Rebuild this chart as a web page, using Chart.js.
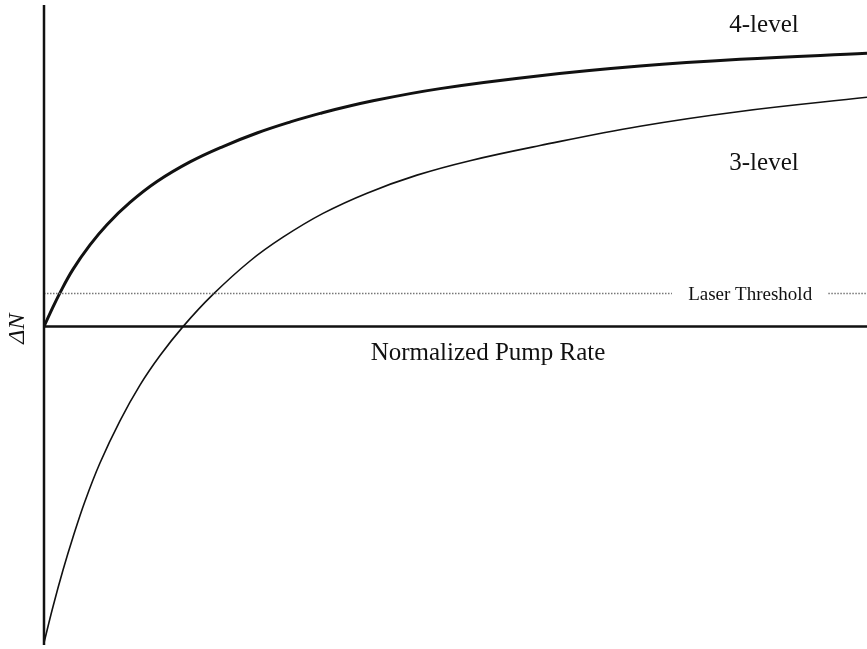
<!DOCTYPE html>
<html>
<head>
<meta charset="utf-8">
<title>Population inversion vs pump rate</title>
<script src="https://cdn.jsdelivr.net/npm/chart.js@4/dist/chart.umd.min.js"></script>
<style>
  html, body { margin: 0; padding: 0; background: #fff; }
  #chart { display: block; }
</style>
</head>
<body>
<canvas id="chart" width="867" height="649"></canvas>
<script>
// ---- Data ----
const fourLevelRate = [0, 0.073, 0.194, 0.352, 0.559, 0.765, 1.045, 1.373, 1.774, 2.175, 2.588, 2.989, 3.354, 3.998, 4.812, 6.027, 7.242, 8.457, 10];
const fourLevel = [0, 0.041, 0.105, 0.178, 0.254, 0.317, 0.386, 0.451, 0.512, 0.560, 0.602, 0.636, 0.663, 0.702, 0.740, 0.780, 0.810, 0.831, 0.850];
const threeLevelRate = [0, 0.109, 0.231, 0.352, 0.498, 0.680, 0.923, 1.166, 1.410, 1.689, 2.041, 2.503, 2.904, 3.390, 3.925, 4.532, 5.176, 6.027, 7.242, 8.457, 10];
const threeLevel = [-0.983, -0.871, -0.757, -0.655, -0.543, -0.424, -0.293, -0.182, -0.090, 0, 0.097, 0.204, 0.278, 0.352, 0.415, 0.471, 0.516, 0.563, 0.623, 0.669, 0.713];
const threshold = 0.103;
const thresholdGap = [7.63, 9.53]; // where the label breaks the dotted line
const curveLabels = ["4-level", "3-level"];

const toPoints = (xs, ys) => xs.map((x, i) => ({ x: x, y: ys[i] }));

// ---- Axes, threshold and labels ----
const annotate = {
  id: "annotate",
  afterDatasetsDraw(chart) {
    const { ctx, chartArea, scales } = chart;
    const x0 = scales.x.getPixelForValue(0);
    const y0 = scales.y.getPixelForValue(0);
    const yT = scales.y.getPixelForValue(threshold);
    ctx.save();

    // threshold dotted line
    ctx.strokeStyle = "#777";
    ctx.lineWidth = 1.5;
    ctx.setLineDash([1.5, 1.5]);
    ctx.beginPath();
    ctx.moveTo(x0, yT);
    ctx.lineTo(scales.x.getPixelForValue(thresholdGap[0]), yT);
    ctx.moveTo(scales.x.getPixelForValue(thresholdGap[1]), yT);
    ctx.lineTo(chartArea.right, yT);
    ctx.stroke();
    ctx.setLineDash([]);

    // axes
    ctx.strokeStyle = "#111";
    ctx.lineWidth = 2.5;
    ctx.beginPath();
    ctx.moveTo(x0, chartArea.top);
    ctx.lineTo(x0, chartArea.bottom);
    ctx.moveTo(x0, y0);
    ctx.lineTo(chartArea.right, y0);
    ctx.stroke();

    // text
    ctx.fillStyle = "#111";
    ctx.textAlign = "center";
    ctx.textBaseline = "middle";
    ctx.font = "19px 'Liberation Serif'";
    const midGap = (thresholdGap[0] + thresholdGap[1]) / 2;
    ctx.fillText("Laser Threshold", scales.x.getPixelForValue(midGap), yT + 2);

    ctx.font = "25px 'Liberation Serif'";
    ctx.fillText(curveLabels[0], 764, 25);
    ctx.fillText(curveLabels[1], 764, 163);
    ctx.fillText("Normalized Pump Rate", 488, 353);

    ctx.translate(18, y0 + 2);
    ctx.rotate(-Math.PI / 2);
    ctx.font = "italic 24px 'Liberation Serif'";
    ctx.fillText("\u0394N", 0, 0);
    ctx.restore();
  },
};

new Chart(document.getElementById("chart"), {
  type: "line",
  data: {
    datasets: [
      {
        label: curveLabels[0],
        data: toPoints(fourLevelRate, fourLevel),
        borderColor: "#111",
        borderWidth: 3,
        pointRadius: 0,
        tension: 0.4,
      },
      {
        label: curveLabels[1],
        data: toPoints(threeLevelRate, threeLevel),
        borderColor: "#111",
        borderWidth: 1.6,
        pointRadius: 0,
        tension: 0.4,
      },
    ],
  },
  options: {
    responsive: false,
    animation: false,
    layout: { padding: { left: 44, right: 0, top: 5, bottom: 4 } },
    scales: {
      x: { type: "linear", min: 0, max: 10, display: false },
      y: { type: "linear", min: -0.99, max: 1.0, display: false },
    },
    plugins: {
      legend: { display: false },
      tooltip: { enabled: false },
    },
  },
  plugins: [annotate],
});
</script>
</body>
</html>
